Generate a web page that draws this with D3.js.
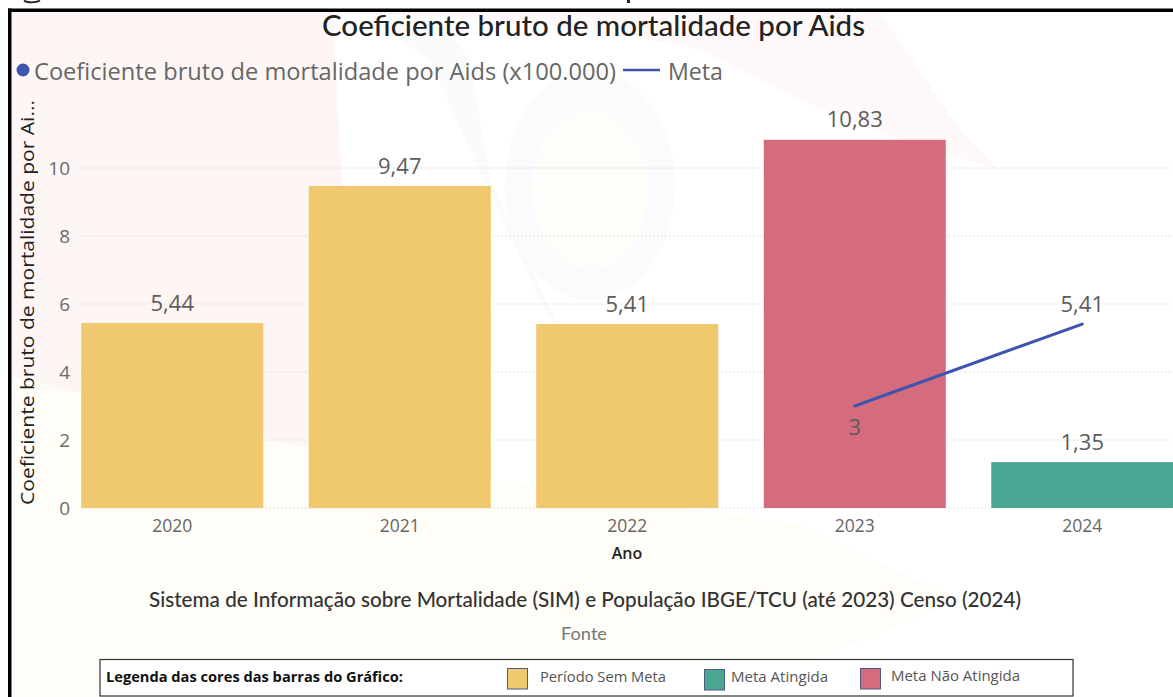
<!DOCTYPE html>
<html><head><meta charset="utf-8">
<script src="https://cdn.jsdelivr.net/npm/d3@7/dist/d3.min.js"></script>
<style>html,body{margin:0;padding:0;background:#fff;overflow:hidden}svg{display:block}</style>
</head><body><svg id="c" width="1173" height="697"></svg>
<script>
const years = ["2020","2021","2022","2023","2024"];
const coef = [5.44,9.47,5.41,10.83,1.35];
const meta = [null,null,null,3,5.41];
const status = ["sem","sem","sem","nao","ok"];
const yTicks = [0,2,4,6,8,10];
const legendItems = ["Período Sem Meta","Meta Atingida","Meta Não Atingida"];
const legendKeys = ["sem","ok","nao"];
const barColors = {sem:"#f0c86e",ok:"#4aa693",nao:"#d56c7e"};
const lineColor = "#3f55ad";
const sans = "'Open Sans','Noto Sans',sans-serif";
const din = "Lato,'Noto Sans',sans-serif";

const svg = d3.select("#c");
const fmt = v => String(v).replace(".",",");
const x = d3.scaleBand().domain(years).range([58.5,1196]).paddingInner(0.2).paddingOuter(0.1);
const y = d3.scaleLinear().domain([0,10]).range([508,168]);
const cx = d => x(d)+x.bandwidth()/2;

// faint background image
const bg = svg.append("g");
bg.append("path").attr("d","M12,12H333L338,110L345,240L330,440L300,447L12,377Z").attr("fill","#fdf6f5");
bg.append("path").attr("d","M12,377L300,447L560,490L800,525L960,600L720,697H12Z").attr("fill","#fffdf7");
bg.append("path").attr("d","M333,12H880L960,130L1000,170L900,140L800,100L700,50L600,30L480,20Z").attr("fill","#fef9f8");
bg.append("path").attr("d","M370,20L430,60L470,150L540,300L600,400L660,440L690,360L640,330L560,330L490,180L470,60L440,20Z").attr("fill","#f9fbf9");
bg.append("ellipse").attr("cx",590).attr("cy",185).attr("rx",85).attr("ry",115).attr("fill","#fafbfc");
bg.append("ellipse").attr("cx",590).attr("cy",190).attr("rx",58).attr("ry",80).attr("fill","#fdfdfa");

// frame and cut-off marks above it
svg.append("rect").attr("x",8).attr("y",8.5).attr("width",1165).attr("height",3.5).attr("fill","#000");
svg.append("rect").attr("x",8).attr("y",8.5).attr("width",3.5).attr("height",689).attr("fill","#000");
svg.append("path").attr("d","M24,0.5C27,3,36,3,40,0.5").attr("fill","none").attr("stroke","#222").attr("stroke-width",1.8);
svg.append("rect").attr("x",627).attr("y",0).attr("width",3).attr("height",3).attr("fill","#222");

// gridlines
svg.append("g").selectAll("line").data(yTicks).join("line")
  .attr("x1",81).attr("x2",1173).attr("y1",d=>y(d)).attr("y2",d=>y(d))
  .attr("stroke","#c4c4c4").attr("stroke-width",1).attr("stroke-dasharray","1 3");

// bars
svg.append("g").selectAll("rect").data(years).join("rect")
  .attr("x",d=>x(d)).attr("width",x.bandwidth())
  .attr("y",(d,i)=>y(coef[i])).attr("height",(d,i)=>y(0)-y(coef[i]))
  .attr("fill",(d,i)=>barColors[status[i]]);

// y axis
const ya = svg.append("g").attr("transform","translate(70,0)")
  .call(d3.axisLeft(y).tickValues(yTicks).tickSize(0).tickPadding(0));
ya.select(".domain").remove();
ya.selectAll("text").attr("font-family",sans).attr("font-size",19).attr("fill","#6b6b6b").attr("dy","0.36em");

// x axis
const xa = svg.append("g").attr("transform","translate(0,508)")
  .call(d3.axisBottom(x).tickSize(0).tickPadding(0));
xa.select(".domain").remove();
xa.selectAll("text").attr("font-family",sans).attr("font-size",17.5).attr("fill","#666").attr("y",24).attr("dy",0);

// meta line
const line = d3.line().defined(d=>d[1]!=null).x(d=>cx(d[0])).y(d=>y(d[1]));
svg.append("path").datum(years.map((d,i)=>[d,meta[i]])).attr("d",line)
  .attr("fill","none").attr("stroke",lineColor).attr("stroke-width",3).attr("stroke-linecap","round");

// value labels
svg.append("g").selectAll("text").data(years).join("text")
  .attr("x",d=>cx(d)).attr("y",(d,i)=>y(coef[i])-12.5).attr("text-anchor","middle")
  .attr("font-family",sans).attr("font-size",22).attr("fill","#5c5c5c")
  .text((d,i)=>fmt(coef[i]));
svg.append("g").selectAll("text").data(years.filter((d,i)=>meta[i]!=null)).join("text")
  .attr("x",d=>cx(d)).attr("text-anchor","middle")
  .attr("y",d=>{const v=meta[years.indexOf(d)];return v===3?y(v)+29:y(v)-12;})
  .attr("font-family",sans).attr("font-size",22).attr("fill","#5c5c5c")
  .text(d=>fmt(meta[years.indexOf(d)]));

// titles
function label(t,px,py,size,col,fam,w,anchor,len,adj){
  const e=svg.append("text").attr("x",px).attr("y",py).attr("font-size",size).attr("fill",col)
    .attr("font-family",fam).attr("font-weight",w).attr("text-anchor",anchor||"start").text(t);
  if(len) e.attr("textLength",len).attr("lengthAdjust",adj||"spacingAndGlyphs");
  return e;
}
label("Coeficiente bruto de mortalidade por Aids",322,36,29,"#222",din,500,"start",543);
svg.append("circle").attr("cx",23).attr("cy",70).attr("r",6.5).attr("fill",lineColor);
label("Coeficiente bruto de mortalidade por Aids (x100.000)",34,80,23.5,"#666",sans,400,"start",582);
svg.append("line").attr("x1",623).attr("x2",660).attr("y1",70).attr("y2",70).attr("stroke",lineColor).attr("stroke-width",2.5);
label("Meta",668,80,23.5,"#666",sans,400,"start",55);

svg.append("text").attr("transform","translate(34,505) rotate(-90)")
  .attr("font-family",sans).attr("font-size",18.5).attr("font-weight",500).attr("fill","#222")
  .attr("textLength",405).attr("lengthAdjust","spacingAndGlyphs")
  .text("Coeficiente bruto de mortalidade por Ai...");
label("Ano",627,559,16,"#252423",sans,600,"middle");
label("Sistema de Informação sobre Mortalidade (SIM) e População IBGE/TCU (até 2023) Censo (2024)",149,607,21,"#333",din,500,"start",872);
label("Fonte",561,640,17,"#777",din,400,"start",46);

// colour legend
svg.append("rect").attr("x",100).attr("y",659.5).attr("width",973).attr("height",36.5)
  .attr("fill","#fff").attr("stroke","#333").attr("stroke-width",1.2);
label("Legenda das cores das barras do Gráfico:",106,682,14,"#111",sans,700,"start",297);
const swX=[507,704,860], swY=[668,669,668], txX=[540,731,891], txLen=[126,97,129], txY=[682,682,681];
svg.append("g").selectAll("rect").data(legendKeys).join("rect")
  .attr("x",(d,i)=>swX[i]+.5).attr("y",(d,i)=>swY[i]+.5).attr("width",20).attr("height",20.5)
  .attr("fill",d=>barColors[d]).attr("stroke","#4d5a85").attr("stroke-width",1);
legendItems.forEach((t,i)=>label(t,txX[i],txY[i],14,"#555",sans,400,"start",txLen[i]));
</script></body></html>
